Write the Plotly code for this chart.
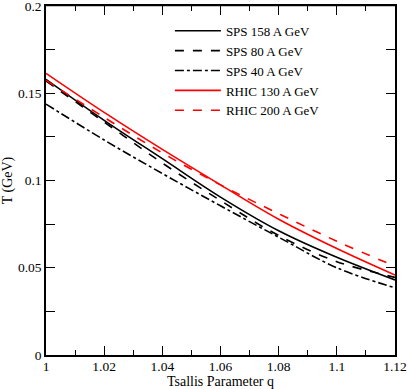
import plotly.graph_objects as go

# Tsallis parameter q and temperature T (GeV)
q_values = [1.0, 1.02, 1.04, 1.06, 1.08, 1.10, 1.12]

sps_158 = [0.1580, 0.1345, 0.1125, 0.0905, 0.0712, 0.0560, 0.0430]
sps_80 = [0.1570, 0.1335, 0.1100, 0.0885, 0.0685, 0.0535, 0.0445]
sps_40 = [0.1438, 0.1232, 0.1040, 0.0855, 0.0675, 0.0500, 0.0385]
rhic_130 = [0.1614, 0.1390, 0.1178, 0.0975, 0.0778, 0.0610, 0.0458]
rhic_200 = [0.1574, 0.1362, 0.1158, 0.0975, 0.0810, 0.0652, 0.0509]

x_ticks = [1.0, 1.02, 1.04, 1.06, 1.08, 1.10, 1.12]
x_labels = ["1", "1.02", "1.04", "1.06", "1.08", "1.1", "1.12"]
y_ticks = [0, 0.05, 0.1, 0.15, 0.2]
y_labels = ["0", "0.05", "0.1", "0.15", "0.2"]

series = [
    ("SPS 158 A GeV", sps_158, "black", "solid"),
    ("SPS 80 A GeV", sps_80, "black", "dash"),
    ("SPS 40 A GeV", sps_40, "black", "dashdot"),
    ("RHIC 130 A GeV", rhic_130, "red", "solid"),
    ("RHIC 200 A GeV", rhic_200, "red", "dash"),
]

FONT = "Liberation Serif, Times New Roman, serif"
TICK_FONT = dict(family=FONT, size=13.5, color="black")

fig = go.Figure()
for name, vals, color, dash in series:
    fig.add_trace(
        go.Scatter(
            x=q_values,
            y=vals,
            mode="lines",
            name=name,
            line=dict(color=color, width=1.6, dash=dash, shape="spline"),
        )
    )

# invisible copy on the top axis so that axis (frame edge + ticks) gets drawn
fig.add_trace(
    go.Scatter(
        x=q_values,
        y=sps_158,
        xaxis="x2",
        mode="lines",
        line=dict(width=0, color="rgba(0,0,0,0)"),
        showlegend=False,
        hoverinfo="skip",
    )
)

axis_common = dict(
    showline=True,
    linecolor="black",
    linewidth=1.5,
    mirror="allticks",
    ticks="inside",
    ticklen=9,
    tickwidth=1,
    tickcolor="black",
    showgrid=False,
    zeroline=False,
    automargin=True,
    ticklabeloverflow="allow",
    tickfont=TICK_FONT,
)

fig.update_xaxes(
    range=[1.0, 1.12],
    tickvals=x_ticks,
    ticktext=x_labels,
    ticklabelstandoff=-2,
    minor=dict(ticks="inside", ticklen=5, tickcolor="black", dtick=0.01, tick0=1.0),
    title=dict(text="Tsallis Parameter q", font=dict(family=FONT, size=14, color="black"), standoff=5),
    selector=dict(anchor="y", side="bottom"),
    **axis_common,
)
fig.update_yaxes(
    range=[0, 0.2],
    tickvals=y_ticks,
    ticktext=y_labels,
    minor=dict(ticks="inside", ticklen=5, tickcolor="black", dtick=0.025, tick0=0),
    title=dict(text="T (GeV)", font=dict(family=FONT, size=14, color="black"), standoff=4),
    **axis_common,
)

fig.update_layout(
    template="simple_white",
    width=409,
    height=389,
    margin=dict(l=46, r=14, t=6, b=34, autoexpand=False),
    paper_bgcolor="white",
    plot_bgcolor="white",
    font=dict(family=FONT, size=14, color="black"),
    xaxis=dict(
        range=[1.0, 1.12],
        tickvals=x_ticks,
        ticktext=x_labels,
        ticklabelstandoff=-2,
        minor=dict(ticks="inside", ticklen=5, tickcolor="black", dtick=0.01, tick0=1.0),
        title=dict(text="Tsallis Parameter q", font=dict(family=FONT, size=14, color="black"), standoff=5),
        **axis_common,
    ),
    xaxis2=dict(
        overlaying="x",
        side="top",
        anchor="y",
        range=[1.0, 1.12],
        tickvals=x_ticks,
        showticklabels=False,
        showline=True,
        linecolor="black",
        linewidth=1.5,
        ticks="inside",
        ticklen=9,
        tickwidth=1,
        tickcolor="black",
        minor=dict(ticks="inside", ticklen=5, tickcolor="black", dtick=0.01, tick0=1.0),
        showgrid=False,
        zeroline=False,
    ),
    shapes=[
        dict(
            type="line",
            xref="x domain",
            yref="y domain",
            x0=0,
            x1=1,
            y0=1,
            y1=1,
            line=dict(color="black", width=1.5),
            layer="above",
        )
    ],
    legend=dict(
        x=0.355,
        y=0.972,
        xanchor="left",
        yanchor="top",
        bgcolor="rgba(0,0,0,0)",
        font=dict(family=FONT, size=13, color="black"),
        itemwidth=46,
        tracegroupgap=0,
    ),
    showlegend=True,
)

# page body has an 8px default margin; drop it so the figure sits at 0,0
fig.write_html(
    "out.html",
    config={"displayModeBar": False},
    post_script="document.body.style.margin='0';",
)
